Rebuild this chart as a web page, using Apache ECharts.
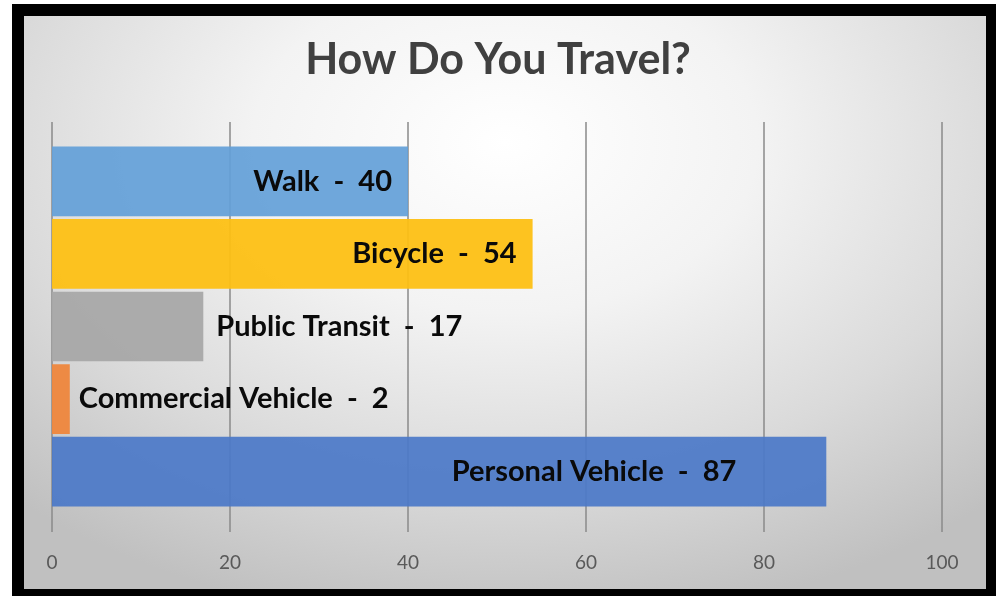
<!DOCTYPE html>
<html>
<head>
<meta charset="utf-8">
<script src="https://cdn.jsdelivr.net/npm/echarts@6/dist/echarts.min.js"></script>
<style>
html,body{margin:0;padding:0;background:#fff;width:996px;height:596px;overflow:hidden;}
#frame{position:absolute;left:12px;top:4px;width:1000px;height:600px;background:#000;}
#bg{position:absolute;left:24px;top:16px;width:962px;height:573px;
 background:radial-gradient(ellipse 75% 85% at 50% 22%, #ffffff 0%, #f3f3f3 35%, #dadada 70%, #c0c0c0 100%);}
#chart{position:absolute;left:0;top:0;width:996px;height:596px;}
</style>
</head>
<body>
<div id="frame"></div>
<div id="bg"></div>
<div id="chart"></div>
<script>
const categories = ['Walk', 'Bicycle', 'Public Transit', 'Commercial Vehicle', 'Personal Vehicle'];
const values = [40, 54, 17, 2, 87];
const tickValues = [0, 20, 40, 60, 80, 100];

const colors = ['rgba(100,160,216,0.93)', 'rgba(253,192,20,0.95)', 'rgba(168,168,168,0.95)', 'rgba(238,134,60,0.95)', 'rgba(75,120,200,0.92)'];
const labelCfg = [
  {position: 'insideRight', distance: 16},
  {position: 'insideRight', distance: 16},
  {position: 'right', distance: 13},
  {position: 'right', distance: 9},
  {position: 'insideRight', distance: 90}
];
const font = 'Lato, "Open Sans", sans-serif';

const chart = echarts.init(document.getElementById('chart'), null, {renderer: 'canvas'});
chart.setOption({
  backgroundColor: 'transparent',
  animation: false,
  title: {
    text: 'How Do You Travel?',
    left: 'center',
    top: 34,
    textStyle: {fontFamily: font, fontWeight: 'bold', fontSize: 43, color: '#404040'}
  },
  grid: [
    {left: 52, right: 54, top: 145, bottom: 88},
    {left: 52, right: 54, top: 122, bottom: 64}
  ],
  xAxis: [
    {gridIndex: 0, type: 'value', min: tickValues[0], max: tickValues[tickValues.length - 1], interval: 20, show: false},
    {gridIndex: 1, type: 'value', min: tickValues[0], max: tickValues[tickValues.length - 1], interval: 20,
     axisLine: {show: false}, axisTick: {show: false},
     splitLine: {show: true, lineStyle: {color: '#8a8a8a', width: 1.5}},
     axisLabel: {color: '#595959', fontSize: 19, fontFamily: font, margin: 21}}
  ],
  yAxis: [
    {gridIndex: 0, type: 'category', data: categories, inverse: true, show: false},
    {gridIndex: 1, type: 'category', data: categories, show: false}
  ],
  series: [{
    type: 'bar',
    xAxisIndex: 0, yAxisIndex: 0,
    barCategoryGap: '4%',
    z: 3,
    data: values.map((v, i) => ({
      value: v,
      itemStyle: {color: colors[i]},
      label: {show: true, position: labelCfg[i].position, distance: labelCfg[i].distance}
    })),
    label: {
      show: true,
      fontFamily: font,
      fontWeight: 'bold',
      fontSize: 29,
      color: '#0a0a0a',
      formatter: p => p.name + '  -  ' + p.value
    }
  }]
});
</script>
</body>
</html>
